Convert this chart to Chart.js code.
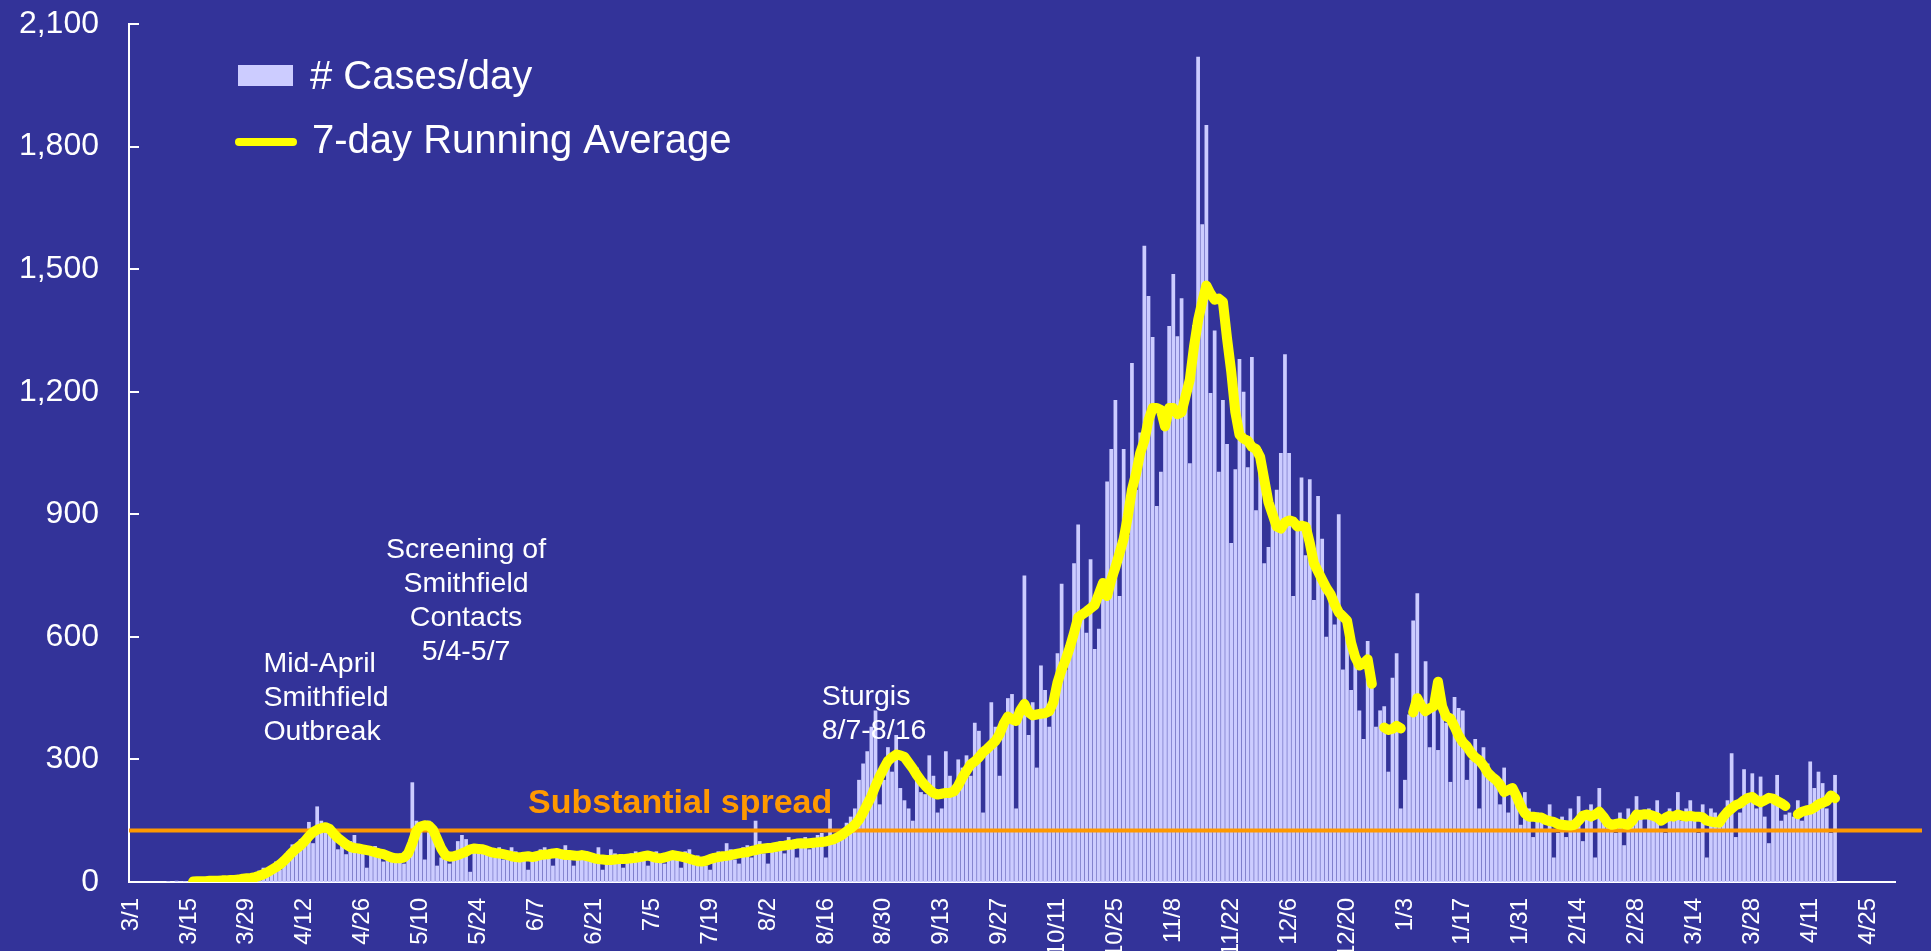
<!DOCTYPE html>
<html>
<head>
<meta charset="utf-8">
<script src="https://cdn.jsdelivr.net/npm/chart.js@4"></script>
<style>
  html, body { margin: 0; padding: 0; background: #333399; }
  canvas { display: block; }
</style>
</head>
<body>
<canvas id="casesChart" width="1931" height="951"></canvas>
<script>
// first day on the axis and how many days the axis covers
const firstDay = new Date(2020, 2, 1);
const axisDays = 427;

// labels shown every 14 days
const xTickLabels = [
    "3/1", "3/15", "3/29", "4/12", "4/26", "5/10", "5/24", "6/7", "6/21", "7/5", "7/19",
    "8/2", "8/16", "8/30", "9/13", "9/27", "10/11", "10/25", "11/8", "11/22", "12/6",
    "12/20", "1/3", "1/17", "1/31", "2/14", "2/28", "3/14", "3/28", "4/11", "4/25"
];

// new cases per day, one row per week (Sun..Sat), starting 3/1/2020
const caseCounts = [
    0, 0, 0, 0, 0, 0, 0,
    0, 0, 2, 0, 3, 1, 2,
    1, 3, 1, 2, 3, 1, 4,
    7, 2, 2, 5, 5, 12, 10,
    8, 7, 21, 28, 35, 22, 30,
    50, 30, 60, 75, 92, 88, 105,
    110, 147, 95, 185, 150, 128, 118,
    105, 80, 95, 68, 100, 115, 75,
    72, 35, 80, 88, 62, 50, 55,
    62, 55, 50, 45, 60, 244, 150,
    130, 55, 150, 120, 40, 60, 75,
    45, 60, 100, 115, 105, 25, 80,
    90, 75, 70, 80, 60, 85, 55,
    60, 85, 75, 60, 70, 30, 65,
    55, 80, 85, 60, 40, 75, 70,
    90, 60, 40, 70, 75, 55, 65,
    50, 85, 30, 45, 80, 70, 55,
    35, 60, 70, 75, 55, 60, 40,
    65, 75, 60, 45, 70, 55, 65,
    35, 75, 80, 45, 65, 55, 40,
    30, 65, 75, 70, 95, 80, 55,
    45, 85, 90, 60, 150, 100, 70,
    45, 90, 75, 100, 70, 110, 95,
    60, 85, 110, 80, 100, 115, 120,
    60, 155, 110, 100, 125, 145, 160,
    180, 250, 290, 320, 380, 420, 190,
    250, 330, 270, 360, 230, 200, 180,
    150, 280, 220, 215, 310, 260, 170,
    180, 320, 260, 230, 300, 280, 310,
    260, 390, 370, 170, 320, 440, 380,
    260, 400, 450, 460, 180, 420, 750,
    360, 440, 280, 530, 470, 380, 420,
    560, 730, 520, 600, 780, 875, 650,
    610, 790, 570, 620, 700, 980, 1060,
    1180, 700, 1060, 850, 1270, 960, 1100,
    1557, 1434, 1334, 920, 1004, 1110, 1361,
    1488, 1336, 1429, 1180, 1025, 1363, 2020,
    1610, 1853, 1197, 1350, 1004, 1180, 1072,
    830, 1010, 1280, 1200, 1015, 1285, 910,
    1060, 780, 820, 900, 960, 1050, 1292,
    1050, 700, 870, 990, 800, 986, 690,
    945, 840, 600, 700, 630, 900, 520,
    620, 470, 560, 420, 350, 590, 480,
    380, 420, 430, 270, 500, 560, 180,
    250, 410, 640, 707, 430, 540, 330,
    430, 323, 450, 390, 245, 453, 426,
    420, 250, 300, 350, 180, 330, 290,
    250, 260, 190, 280, 170, 230, 200,
    140, 220, 180, 110, 170, 150, 130,
    190, 60, 120, 160, 110, 180, 150,
    210, 100, 160, 190, 60, 230, 170,
    140, 140, 120, 170, 90, 180, 150,
    210, 170, 130, 180, 170, 200, 130,
    120, 180, 170, 220, 150, 180, 200,
    160, 120, 190, 60, 180, 170, 150,
    150, 200, 315, 110, 170, 276, 210,
    266, 180, 258, 160, 95, 200, 262,
    150, 165, 170, 160, 200, 150, 180,
    295, 230, 270, 242, 180, 120, 262
];

// 7-day running average as plotted (null where the line breaks)
const runningAverage = [
    null, null, null, null, null, null, null,
    null, null, null, null, null, null, null,
    null, 1, 2, 2, 2, 3, 3,
    3, 4, 4, 5, 5, 6, 8,
    9, 10, 12, 15, 19, 24, 30,
    36, 43, 52, 62, 73, 82, 90,
    100, 112, 122, 128, 132, 134, 130,
    118, 108, 100, 92, 86, 83, 82,
    80, 78, 76, 73, 70, 68, 64,
    60, 58, 58, 60, 70, 95, 125,
    136, 139, 138, 128, 105, 82, 66,
    62, 63, 66, 70, 74, 80, 82,
    81, 80, 77, 73, 71, 70, 68,
    66, 63, 61, 60, 62, 63, 61,
    63, 66, 67, 68, 70, 71, 68,
    66, 66, 65, 64, 66, 64, 61,
    58, 56, 55, 54, 54, 55, 56,
    56, 57, 58, 59, 61, 63, 65,
    62, 59, 58, 60, 63, 66, 64,
    62, 60, 57, 54, 51, 50, 52,
    56, 59, 61, 63, 64, 66, 68,
    70, 72, 73, 76, 78, 81, 82,
    83, 84, 86, 88, 89, 91, 92,
    94, 95, 94, 95, 96, 97, 98,
    99, 102, 105, 110, 116, 124, 131,
    140, 152, 170, 190, 210, 235, 258,
    278, 296, 305, 312, 310, 306, 292,
    278, 262, 248, 236, 226, 218, 214,
    216, 218, 218, 222, 236, 256, 272,
    288, 295, 305, 318, 326, 336, 345,
    362, 388, 405, 398, 394, 420, 436,
    415, 408, 410, 412, 413, 418, 440,
    488, 520, 545, 575, 610, 648, 655,
    662, 670, 678, 705, 732, 700, 740,
    770, 805, 840, 895, 960, 1000, 1050,
    1080, 1130, 1160, 1160, 1155, 1115, 1160,
    1160, 1145, 1150, 1190, 1230, 1310, 1375,
    1420, 1460, 1440, 1425, 1428, 1420, 1330,
    1250, 1150, 1095, 1085, 1080, 1065, 1060,
    1040, 985, 930, 900, 870, 865, 880,
    885, 882, 870, 872, 870, 830, 780,
    760, 740, 720, 705, 680, 660, 650,
    640, 585, 550, 530, 535, 545, 485,
    null, null, 378, 372, 375, 382, 376,
    null, null, 415, 450, 430, 418, 425,
    430, 490, 430, 405, 400, 380, 358,
    342, 332, 316, 305, 298, 285, 268,
    258, 250, 238, 220, 225, 230, 210,
    186, 168, 160, 160, 158, 158, 152,
    149, 147, 142, 140, 139, 138, 140,
    150, 162, 165, 160, 165, 172, 160,
    145, 140, 142, 144, 142, 140, 150,
    165, 164, 166, 165, 162, 158, 150,
    157, 162, 160, 165, 162, 160, 162,
    160, 160, 158, 150, 148, 146, 145,
    160, 172, 180, 188, 192, 200, 206,
    208, 200, 195, 200, 206, 204, 198,
    193, 186, null, null, 166, 172, 175,
    177, 182, 190, 194, 198, 212, 205
];

// "substantial spread" level (cases per day)
const spreadThreshold = 126;

// text notes, anchored to a day index and a value
const notes = [
    { lines: ["Mid-April", "Smithfield", "Outbreak"], day: 32, value: 514, align: "left" },
    { lines: ["Screening of", "Smithfield", "Contacts", "5/4-5/7"], day: 81, value: 793, align: "center" },
    { lines: ["Sturgis", "8/7-8/16"], day: 167, value: 433, align: "left" }
];

const FONT = "'Liberation Sans', Arial, sans-serif";

// daily category labels
const dayLabels = [];
for (let i = 0; i < axisDays; i++) {
    const d = new Date(firstDay.getFullYear(), firstDay.getMonth(), firstDay.getDate() + i);
    dayLabels.push((d.getMonth() + 1) + "/" + d.getDate());
}

const background = {
    id: "background",
    beforeDraw(chart) {
        const ctx = chart.ctx;
        ctx.save();
        ctx.fillStyle = "#333399";
        ctx.fillRect(0, 0, chart.width, chart.height);
        ctx.restore();
    }
};

// orange line sits between the bars and the yellow line
const thresholdLine = {
    id: "thresholdLine",
    afterDatasetDraw(chart, args) {
        if (args.meta.type !== "bar") return;
        const ctx = chart.ctx;
        const y = chart.scales.y.getPixelForValue(spreadThreshold);
        ctx.save();
        ctx.strokeStyle = "#FF9900";
        ctx.lineWidth = 4;
        ctx.beginPath();
        ctx.moveTo(chart.chartArea.left, y);
        ctx.lineTo(chart.width - 9, y);
        ctx.stroke();

        ctx.fillStyle = "#FF9900";
        ctx.font = "bold 34px " + FONT;
        ctx.textAlign = "left";
        ctx.fillText("Substantial spread", chart.scales.x.getPixelForValue(96), chart.scales.y.getPixelForValue(169));
        ctx.restore();
    }
};

const extras = {
    id: "extras",
    afterDraw(chart) {
        const ctx = chart.ctx;
        const area = chart.chartArea;
        const yScale = chart.scales.y;
        const xScale = chart.scales.x;
        ctx.save();

        // y ticks point into the plot
        ctx.strokeStyle = "#FFFFFF";
        ctx.lineWidth = 2;
        yScale.ticks.forEach(t => {
            const y = Math.round(yScale.getPixelForValue(t.value));
            ctx.beginPath();
            ctx.moveTo(area.left, y);
            ctx.lineTo(area.left + 10, y);
            ctx.stroke();
        });

        // legend
        const ds = chart.data.datasets;
        const lx = area.left + 109;
        const ly = yScale.getPixelForValue(2100);
        ctx.fillStyle = ds[0].backgroundColor;
        ctx.fillRect(lx, ly + 41, 55, 21);
        ctx.strokeStyle = ds[1].borderColor;
        ctx.lineWidth = 8;
        ctx.lineCap = "round";
        ctx.beginPath();
        ctx.moveTo(lx + 1, ly + 118);
        ctx.lineTo(lx + 55, ly + 118);
        ctx.stroke();
        ctx.fillStyle = "#FFFFFF";
        ctx.font = "40px " + FONT;
        ctx.textAlign = "left";
        ctx.fillText(ds[0].label, lx + 72, ly + 65);
        ctx.fillText(ds[1].label, lx + 74, ly + 129);

        // notes
        ctx.font = "28.5px " + FONT;
        notes.forEach(n => {
            const x = xScale.getPixelForValue(n.day);
            const y = yScale.getPixelForValue(n.value);
            ctx.textAlign = n.align;
            n.lines.forEach((line, k) => ctx.fillText(line, x, y + k * 34));
        });
        ctx.restore();
    }
};

new Chart(document.getElementById("casesChart"), {
    type: "bar",
    data: {
        labels: dayLabels,
        datasets: [
            {
                label: "# Cases/day",
                data: caseCounts,
                backgroundColor: "#CCCCFF",
                barPercentage: 0.9,
                categoryPercentage: 1.0,
                order: 2
            },
            {
                type: "line",
                label: "7-day Running Average",
                data: runningAverage,
                borderColor: "#FFFF00",
                borderWidth: 10,
                borderCapStyle: "round",
                borderJoinStyle: "round",
                pointRadius: 0,
                tension: 0,
                spanGaps: false,
                order: 1
            }
        ]
    },
    options: {
        responsive: false,
        animation: false,
        devicePixelRatio: 1,
        layout: { padding: { top: 24, right: 36, left: 0, bottom: 0 } },
        plugins: {
            legend: { display: false },
            tooltip: { enabled: false }
        },
        scales: {
            x: {
                grid: { display: false, drawTicks: false },
                border: { display: true, color: "#FFFFFF", width: 2 },
                ticks: {
                    autoSkip: false,
                    minRotation: 90,
                    maxRotation: 90,
                    padding: 16,
                    color: "#FFFFFF",
                    font: { family: FONT, size: 24 },
                    callback: (v, i) => (i % 14 === 0 ? xTickLabels[i / 14] : "")
                },
                afterFit(scale) {
                    scale.height = 69;
                    scale.paddingLeft = 0;
                    scale.paddingRight = 0;
                }
            },
            y: {
                min: 0,
                max: 2100,
                grid: { display: false, drawTicks: false },
                border: { display: true, color: "#FFFFFF", width: 2 },
                ticks: {
                    stepSize: 300,
                    padding: 30,
                    color: "#FFFFFF",
                    font: { family: FONT, size: 32 },
                    callback: v => v.toLocaleString("en-US")
                },
                afterFit(scale) {
                    scale.width = 129;
                    scale.paddingTop = 0;
                    scale.paddingBottom = 0;
                }
            }
        }
    },
    plugins: [background, thresholdLine, extras]
});
</script>
</body>
</html>
